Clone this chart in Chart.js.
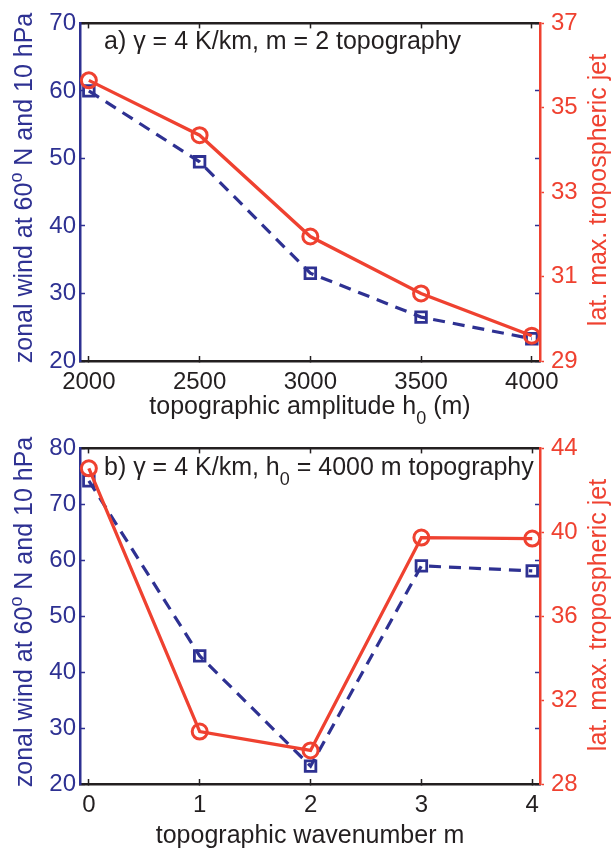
<!DOCTYPE html>
<html>
<head>
<meta charset="utf-8">
<script src="https://cdn.jsdelivr.net/npm/chart.js@4.4.1/dist/chart.umd.min.js"></script>
<style>
  html, body { margin: 0; padding: 0; background: #fff; }
  .panel { position: absolute; left: 0; width: 613px; }
</style>
</head>
<body>
<div class="panel" style="top:0;height:425px"><canvas id="panelA"></canvas></div>
<div class="panel" style="top:425px;height:424px"><canvas id="panelB"></canvas></div>
<script>
// Panel a) — m = 2 topography, varying amplitude h0
const AMPLITUDE = [2000, 2500, 3000, 3500, 4000];
const WIND_A = [60, 49.5, 33, 26.5, 23.3];
const JET_A = [35.65, 34.35, 31.95, 30.6, 29.6];

// Panel b) — h0 = 4000 m topography, varying wavenumber m
const WAVENUMBER = [0, 1, 2, 3, 4];
const WIND_B = [74.2, 42.9, 23.2, 59, 58.1];
const JET_B = [43.05, 30.5, 29.6, 39.75, 39.7];

// tick labels
const TICKS_X_A = [2000, 2500, 3000, 3500, 4000];
const TICKS_WIND_A = [20, 30, 40, 50, 60, 70];
const TICKS_JET_A = [29, 31, 33, 35, 37];
const TICKS_X_B = [0, 1, 2, 3, 4];
const TICKS_WIND_B = [20, 30, 40, 50, 60, 70, 80];
const TICKS_JET_B = [28, 32, 36, 40, 44];

const BLUE = "#2e3192";
const RED = "#ef4130";
const BLACK = "#231f20";
const FONT = "'Liberation Sans', Arial, Helvetica, sans-serif";
const TEXT_SIZE = 25;
const TICK_SIZE = 24;

Chart.defaults.font.family = FONT;

// draws titles with sub/superscripts (and a right-hand title that reads bottom-up)
const richText = {
  id: "richText",
  afterDraw(chart, args, opts) {
    const ctx = chart.ctx;
    (opts.items || []).forEach(item => {
      const size = item.size || TEXT_SIZE;
      const small = Math.round(size * 0.72);
      ctx.save();
      ctx.translate(item.x, item.y);
      ctx.rotate((item.rot || 0) * Math.PI / 180);
      ctx.fillStyle = item.color;
      ctx.textAlign = "left";
      ctx.textBaseline = "alphabetic";
      let w = 0;
      item.parts.forEach(p => {
        ctx.font = `${p[1] ? small : size}px ${FONT}`;
        w += ctx.measureText(p[0]).width;
      });
      let cx = item.align === "center" ? -w / 2 : 0;
      item.parts.forEach(p => {
        ctx.font = `${p[1] ? small : size}px ${FONT}`;
        const dy = p[1] === "sub" ? size * 0.4 : p[1] === "sup" ? -size * 0.42 : 0;
        ctx.fillText(p[0], cx, dy);
        cx += ctx.measureText(p[0]).width;
      });
      ctx.restore();
    });
  }
};

function fixedTicks(values) {
  return scale => { scale.ticks = values.map(v => ({ value: v })); };
}

const plainLabel = v => String(v);

function buildPanel(id, p) {
  const windPts = p.x.map((x, i) => ({ x, y: p.wind[i] }));
  const jetPts = p.x.map((x, i) => ({ x, y: p.jet[i] }));
  return new Chart(document.getElementById(id), {
    type: "line",
    data: {
      datasets: [
        {
          data: jetPts, yAxisID: "yJet",
          borderColor: RED, borderWidth: 3.3, tension: 0,
          pointStyle: "circle", pointRadius: 7.5, pointBorderWidth: 3,
          pointBorderColor: RED, pointBackgroundColor: "rgba(0,0,0,0)", clip: false,
        },
        {
          data: windPts, yAxisID: "y",
          borderColor: BLUE, borderWidth: 3.2, borderDash: [12, 8], tension: 0,
          pointStyle: "rect", pointRadius: 7.5, pointBorderWidth: 2.8,
          pointBorderColor: BLUE, pointBackgroundColor: "rgba(0,0,0,0)", clip: false,
        },
      ],
    },
    options: {
      responsive: true,
      maintainAspectRatio: false,
      animation: false,
      layout: { padding: { top: p.top, left: 0, right: 0, bottom: 0 } },
      plugins: { legend: { display: false }, tooltip: { enabled: false }, richText: { items: p.texts } },
      scales: {
        x: {
          type: "linear", position: "bottom", min: p.xMin, max: p.xMax,
          afterBuildTicks: fixedTicks(p.xTicks),
          afterFit: s => { s.height = p.xHeight; },
          border: { color: BLACK, width: 2.5 },
          grid: { drawOnChartArea: false, tickLength: -5, tickColor: BLACK, tickWidth: 1.5 },
          ticks: { color: BLACK, font: { size: TICK_SIZE }, padding: 12, maxRotation: 0, autoSkip: false, callback: plainLabel },
        },
        xTop: {
          type: "linear", position: "top", min: p.xMin, max: p.xMax,
          afterBuildTicks: fixedTicks(p.xTicks),
          afterFit: s => { s.height = 0; },
          border: { color: BLACK, width: 2.5 },
          grid: { drawOnChartArea: false, tickLength: -5, tickColor: BLACK, tickWidth: 1.5 },
          ticks: { display: false },
        },
        y: {
          type: "linear", position: "left", min: p.windTicks[0], max: p.windTicks[p.windTicks.length - 1],
          afterBuildTicks: fixedTicks(p.windTicks),
          afterFit: s => { s.width = 80; },
          border: { color: BLUE, width: 2.5 },
          grid: { drawOnChartArea: false, tickLength: -5, tickColor: BLUE, tickWidth: 1.5 },
          ticks: { color: BLUE, font: { size: TICK_SIZE }, padding: 9, callback: plainLabel },
        },
        yMirror: {
          type: "linear", position: "right", weight: 0,
          min: p.windTicks[0], max: p.windTicks[p.windTicks.length - 1],
          afterBuildTicks: fixedTicks(p.windTicks),
          afterFit: s => { s.width = 0; },
          border: { display: false },
          grid: { drawOnChartArea: false, tickLength: -5, tickColor: BLUE, tickWidth: 1.5 },
          ticks: { display: false },
        },
        yJet: {
          type: "linear", position: "right", weight: 1,
          min: p.jetTicks[0], max: p.jetTicks[p.jetTicks.length - 1],
          afterBuildTicks: fixedTicks(p.jetTicks),
          afterFit: s => { s.width = 73; },
          border: { color: RED, width: 2.5 },
          grid: { drawOnChartArea: false, tickLength: 4, tickColor: RED, tickWidth: 1.5 },
          ticks: { color: RED, font: { size: TICK_SIZE }, padding: 7, callback: plainLabel },
        },
      },
    },
    plugins: [richText],
  });
}

const windTitle = [["zonal wind at 60"], ["o", "sup"], [" N and 10 hPa"]];
const jetTitle = [["lat. max. tropospheric jet"]];

buildPanel("panelA", {
  x: AMPLITUDE, wind: WIND_A, jet: JET_A,
  xMin: 1960, xMax: 4037, xTicks: TICKS_X_A,
  windTicks: TICKS_WIND_A, jetTicks: TICKS_JET_A,
  top: 15, xHeight: 64,
  texts: [
    { parts: windTitle, x: 32, y: 188, rot: -90, align: "center", color: BLUE },
    { parts: jetTitle, x: 606, y: 190, rot: -90, align: "center", color: RED },
    { parts: [["topographic amplitude h"], ["0", "sub"], [" (m)"]], x: 310, y: 414, align: "center", color: BLACK },
    { parts: [["a) γ = 4 K/km, m = 2 topography"]], x: 104, y: 49, color: BLACK },
  ],
});

buildPanel("panelB", {
  x: WAVENUMBER, wind: WIND_B, jet: JET_B,
  xMin: -0.08, xMax: 4.07, xTicks: TICKS_X_B,
  windTicks: TICKS_WIND_B, jetTicks: TICKS_JET_B,
  top: 16, xHeight: 65,
  texts: [
    { parts: windTitle, x: 32, y: 187, rot: -90, align: "center", color: BLUE },
    { parts: jetTitle, x: 606, y: 190, rot: -90, align: "center", color: RED },
    { parts: [["topographic wavenumber m"]], x: 310, y: 418, align: "center", color: BLACK },
    { parts: [["b) γ = 4 K/km, h"], ["0", "sub"], [" = 4000 m topography"]], x: 104, y: 50, color: BLACK },
  ],
});
</script>
</body>
</html>
